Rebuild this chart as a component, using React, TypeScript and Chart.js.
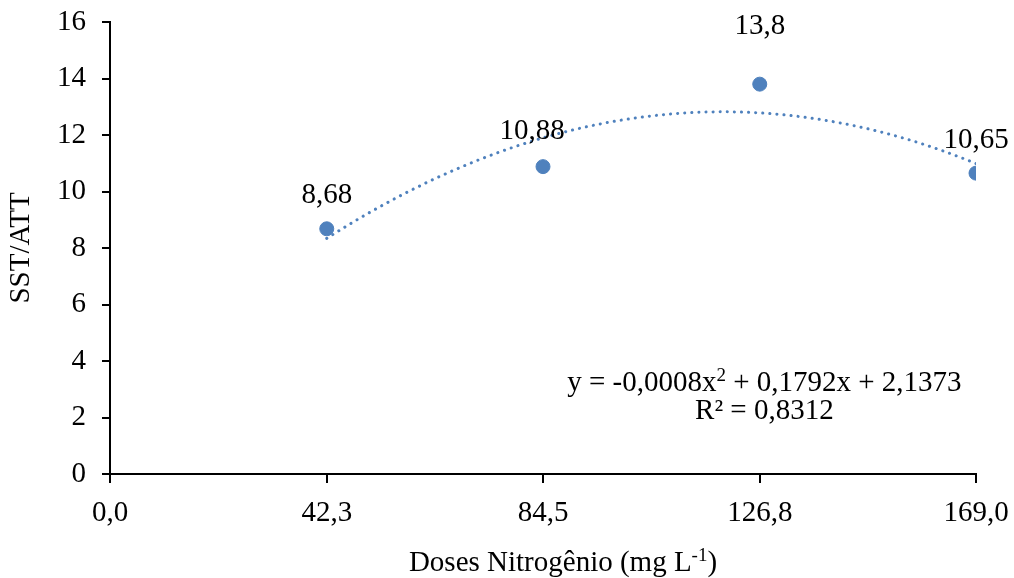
import React, { useEffect, useRef } from "react";
import { Chart, registerables } from "chart.js";

Chart.register(...registerables);

const doses = [42.3, 84.5, 126.8, 169.0];
const sstAtt = [8.68, 10.88, 13.8, 10.65];
const pointLabels = ["8,68", "10,88", "13,8", "10,65"];
const xTickValues = [0, 42.3, 84.5, 126.8, 169.0];
const yAxisTitle = "SST/ATT";
const xAxisTitle = "Doses Nitrogênio (mg L";
const xAxisTitleSup = "-1";
const equationParts = ["y = -0,0008x", "2", " + 0,1792x + 2,1373"];
const r2Text = "R² = 0,8312";

// label offsets (dx, dy above point) – styling only
const labelOffsets: [number, number][] = [
  [0, 33],
  [-11, 35],
  [0, 58],
  [0, 33],
];

const FONT = "'Liberation Serif', 'Times New Roman', serif";
const SIZE = 29;
const BLUE = "#4F81BD";

// least squares quadratic fit to the data
function quadFit(xs: number[], ys: number[]) {
  const n = xs.length;
  const s = [0, 0, 0, 0, 0];
  const t = [0, 0, 0];
  for (let i = 0; i < n; i++) {
    const x = xs[i];
    for (let k = 0; k < 5; k++) s[k] += Math.pow(x, k);
    for (let k = 0; k < 3; k++) t[k] += ys[i] * Math.pow(x, k);
  }
  const A = [
    [s[0], s[1], s[2], t[0]],
    [s[1], s[2], s[3], t[1]],
    [s[2], s[3], s[4], t[2]],
  ];
  for (let i = 0; i < 3; i++) {
    let p = i;
    for (let r = i + 1; r < 3; r++) if (Math.abs(A[r][i]) > Math.abs(A[p][i])) p = r;
    [A[i], A[p]] = [A[p], A[i]];
    for (let r = 0; r < 3; r++) {
      if (r === i) continue;
      const f = A[r][i] / A[i][i];
      for (let c = i; c < 4; c++) A[r][c] -= f * A[i][c];
    }
  }
  return [A[0][3] / A[0][0], A[1][3] / A[1][1], A[2][3] / A[2][2]];
}

type Seg = { text: string; sup?: boolean };

function drawSegs(ctx: CanvasRenderingContext2D, segs: Seg[], cx: number, cy: number) {
  const normal = `${SIZE}px ${FONT}`;
  const small = `${Math.round(SIZE * 0.65)}px ${FONT}`;
  let total = 0;
  const widths = segs.map((s) => {
    ctx.font = s.sup ? small : normal;
    const w = ctx.measureText(s.text).width;
    total += w;
    return w;
  });
  let x = cx - total / 2;
  ctx.textAlign = "left";
  ctx.textBaseline = "middle";
  segs.forEach((s, i) => {
    ctx.font = s.sup ? small : normal;
    ctx.fillText(s.text, x, s.sup ? cy - SIZE * 0.25 : cy);
    x += widths[i];
  });
}

const textPlugin = {
  id: "textPlugin",
  afterDraw(chart: any) {
    const ctx = chart.ctx as CanvasRenderingContext2D;
    ctx.save();
    ctx.fillStyle = "#000";
    // data labels
    const meta = chart.getDatasetMeta(0);
    ctx.font = `${SIZE}px ${FONT}`;
    ctx.textAlign = "center";
    ctx.textBaseline = "middle";
    meta.data.forEach((el: any, i: number) => {
      const [dx, dy] = labelOffsets[i];
      ctx.fillText(pointLabels[i], el.x + dx, el.y - dy);
    });
    const xs = chart.scales.x;
    const ys = chart.scales.y;
    // equation
    const ex = xs.getPixelForValue(127.7);
    drawSegs(
      ctx,
      [{ text: equationParts[0] }, { text: equationParts[1], sup: true }, { text: equationParts[2] }],
      ex,
      ys.getPixelForValue(3.22)
    );
    drawSegs(ctx, [{ text: r2Text }], ex, ys.getPixelForValue(2.2));
    // x title
    drawSegs(
      ctx,
      [{ text: xAxisTitle }, { text: xAxisTitleSup, sup: true }, { text: ")" }],
      563,
      563
    );
    // y title
    ctx.translate(21, (chart.chartArea.top + chart.chartArea.bottom) / 2);
    ctx.rotate(-Math.PI / 2);
    ctx.font = `${SIZE}px ${FONT}`;
    ctx.textAlign = "center";
    ctx.textBaseline = "middle";
    ctx.fillText(yAxisTitle, 0, 0);
    ctx.restore();
  },
};

export default function App() {
  const ref = useRef<HTMLCanvasElement>(null);
  useEffect(() => {
    if (!ref.current) return;
    const [c0, c1, c2] = quadFit(doses, sstAtt);
    const x0 = doses[0];
    const x1 = doses[doses.length - 1];
    const trend: { x: number; y: number }[] = [];
    const N = 80;
    for (let i = 0; i <= N; i++) {
      const x = x0 + ((x1 - x0) * i) / N;
      trend.push({ x, y: c0 + c1 * x + c2 * x * x });
    }
    const chart = new Chart(ref.current, {
      type: "scatter",
      data: {
        datasets: [
          {
            data: doses.map((x, i) => ({ x, y: sstAtt[i] })),
            backgroundColor: BLUE,
            borderColor: BLUE,
            pointRadius: 7,
            pointHoverRadius: 7,
            order: 0,
          } as any,
          {
            type: "line",
            data: trend,
            borderColor: BLUE,
            borderWidth: 3,
            borderDash: [0.1, 7],
            borderCapStyle: "round",
            pointRadius: 0,
            fill: false,
            tension: 0,
            order: 1,
          } as any,
        ],
      },
      options: {
        animation: false,
        responsive: false,
        events: [],
        layout: { padding: { left: 0, right: 38, top: 22, bottom: 0 } },
        plugins: { legend: { display: false }, tooltip: { enabled: false } },
        scales: {
          x: {
            type: "linear",
            min: 0,
            max: 169,
            afterBuildTicks: (scale: any) => {
              scale.ticks = xTickValues.map((v) => ({ value: v }));
            },
            afterFit: (scale: any) => {
              scale.height = 104;
              scale.paddingLeft = 0;
              scale.paddingRight = 0;
            },
            ticks: {
              color: "#000",
              font: { family: FONT, size: SIZE },
              padding: 13,
              maxRotation: 0,
              autoSkip: false,
              callback: (v: any) => Number(v).toFixed(1).replace(".", ","),
            },
            grid: {
              drawOnChartArea: false,
              drawTicks: true,
              tickLength: 9,
              color: "#000",
              lineWidth: 2,
            },
            border: { display: true, color: "#000", width: 2 },
          },
          y: {
            type: "linear",
            min: 0,
            max: 16,
            afterFit: (scale: any) => {
              scale.width = 110;
              scale.paddingTop = 0;
              scale.paddingBottom = 0;
            },
            ticks: {
              stepSize: 2,
              color: "#000",
              font: { family: FONT, size: SIZE },
              padding: 16,
            },
            grid: {
              drawOnChartArea: false,
              drawTicks: true,
              tickLength: 8,
              color: "#000",
              lineWidth: 2,
            },
            border: { display: true, color: "#000", width: 2 },
          },
        },
      },
      plugins: [textPlugin],
    } as any);
    return () => chart.destroy();
  }, []);
  return (
    <div style={{ position: "absolute", left: 0, top: 0, width: 1014, height: 578, background: "#fff" }}>
      <canvas ref={ref} width={1014} height={578} style={{ display: "block" }} />
    </div>
  );
}
